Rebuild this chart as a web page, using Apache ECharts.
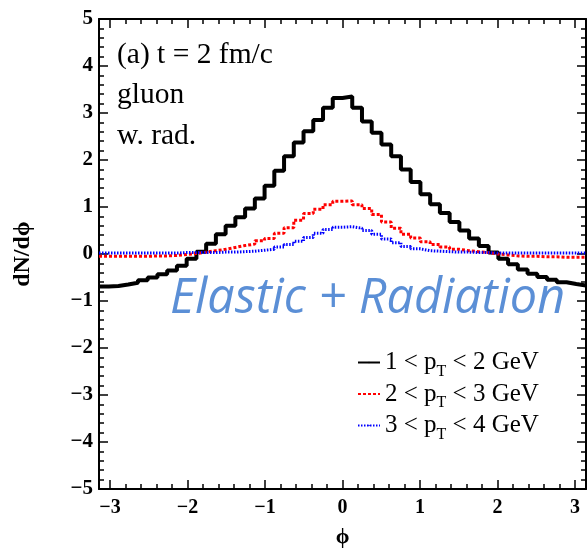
<!DOCTYPE html>
<html style="height: 100%">
<head>
<meta charset="utf-8">
</head>
<body style="width: 100%; height: 100%; margin:0 auto;">
<div id="container" style="width: 587px; height: 553px"></div>
<script type="text/javascript" src="https://cdn.jsdelivr.net/npm/echarts@6/dist/echarts.min.js"></script>
<script type="text/javascript">
	// 50 bins in phi from -pi to pi
	var nBins = 50;
	var xTicks = [-3, -2, -1, 0, 1, 2, 3];
	var seriesNames = ['1 < p_T < 2 GeV', '2 < p_T < 3 GeV', '3 < p_T < 4 GeV'];
	var pt12 = [-0.69, -0.68, -0.65, -0.61, -0.56, -0.50, -0.43, -0.35, -0.25, -0.10,
		0.05, 0.22, 0.42, 0.60, 0.78, 0.97, 1.18, 1.45, 1.77, 2.08,
		2.37, 2.61, 2.85, 3.11, 3.32, 3.35, 3.11, 2.82, 2.58, 2.33,
		2.08, 1.80, 1.53, 1.27, 1.06, 0.87, 0.68, 0.50, 0.33, 0.17,
		0.03, -0.10, -0.22, -0.33, -0.42, -0.49, -0.55, -0.60, -0.64, -0.67];
	var pt23 = [-0.05, -0.05, -0.05, -0.05, -0.05, -0.04, -0.04, -0.03, -0.01, 0.01,
		0.04, 0.07, 0.10, 0.14, 0.18, 0.21, 0.28, 0.33, 0.44, 0.56,
		0.72, 0.86, 0.95, 1.05, 1.12, 1.13, 1.05, 0.97, 0.84, 0.68,
		0.55, 0.42, 0.34, 0.26, 0.20, 0.15, 0.10, 0.07, 0.05, 0.03,
		0.00, -0.02, -0.04, -0.05, -0.05, -0.06, -0.06, -0.07, -0.07, -0.07];
	var pt34 = [0.02, 0.02, 0.02, 0.02, 0.02, 0.02, 0.02, 0.02, 0.03, 0.03,
		0.03, 0.03, 0.04, 0.04, 0.05, 0.06, 0.08, 0.10, 0.15, 0.20,
		0.27, 0.35, 0.44, 0.52, 0.57, 0.58, 0.55, 0.50, 0.42, 0.32,
		0.24, 0.16, 0.11, 0.07, 0.06, 0.05, 0.04, 0.04, 0.03, 0.03,
		0.02, 0.02, 0.02, 0.02, 0.02, 0.02, 0.02, 0.02, 0.02, 0.02];

	var binW = 2 * Math.PI / nBins;
	function stepData(vals) {
		var out = [];
		for (var i = 0; i < vals.length; i++) {
			out.push([-Math.PI + i * binW, vals[i]]);
		}
		out.push([Math.PI, vals[vals.length - 1]]);
		return out;
	}
	var minorX = [];
	for (var k = -15; k <= 15; k++) {
		if (k % 5 != 0) minorX.push(k / 5);
	}
	function minus(v) {
		return String(v).replace('-', '\u2212');
	}

	var serif = 'Liberation Serif';
	var dom = document.getElementById('container');
	var myChart = echarts.init(dom);
	var tickStyle = { color: '#000', width: 1.5 };
	var lineAxis = { show: true, onZero: false, lineStyle: { color: '#000', width: 2 } };
	var noLine = { show: false, onZero: false };

	var option = {
		animation: false,
		backgroundColor: '#fff',
		grid: { left: 99, right: 1, top: 19, bottom: 62 },
		legend: {
			orient: 'vertical',
			left: 357,
			top: 350,
			padding: 0,
			itemGap: 2,
			itemWidth: 22,
			itemHeight: 2,
			data: seriesNames,
			formatter: function (name) {
				var p = name.split('p_T');
				return '{t|' + p[0] + 'p}{s|T}{t|' + p[1] + '}';
			},
			textStyle: {
				rich: {
					t: { fontFamily: serif, fontSize: 25, color: '#000' },
					s: { fontFamily: serif, fontSize: 16, color: '#000', padding: [18, 0, 0, 0] }
				}
			}
		},
		xAxis: [
			{
				type: 'value', min: -Math.PI, max: Math.PI, position: 'bottom',
				name: '\u03d5', nameLocation: 'middle', nameGap: 37,
				nameTextStyle: { fontFamily: serif, fontWeight: 'bold', fontSize: 22, color: '#000' },
				axisLine: lineAxis,
				axisTick: { inside: true, length: 9, customValues: xTicks, lineStyle: tickStyle },
				axisLabel: { customValues: xTicks, margin: 9, fontFamily: serif, fontWeight: 'bold', fontSize: 20, color: '#000', formatter: minus },
				splitLine: { show: false }
			},
			{
				type: 'value', min: -Math.PI, max: Math.PI, position: 'bottom',
				axisLine: noLine,
				axisTick: { inside: true, length: 5, customValues: minorX, lineStyle: tickStyle },
				axisLabel: { show: false },
				splitLine: { show: false }
			},
			{
				type: 'value', min: -Math.PI, max: Math.PI, position: 'top',
				axisLine: lineAxis,
				axisTick: { inside: true, length: 9, customValues: xTicks, lineStyle: tickStyle },
				axisLabel: { show: false },
				splitLine: { show: false }
			},
			{
				type: 'value', min: -Math.PI, max: Math.PI, position: 'top',
				axisLine: noLine,
				axisTick: { inside: true, length: 5, customValues: minorX, lineStyle: tickStyle },
				axisLabel: { show: false },
				splitLine: { show: false }
			}
		],
		yAxis: [
			{
				type: 'value', min: -5, max: 5, interval: 1, position: 'left',
				name: 'dN/d\u03d5', nameLocation: 'middle', nameGap: 64,
				nameTextStyle: { fontFamily: serif, fontWeight: 'bold', fontSize: 24, color: '#000' },
				axisLine: lineAxis,
				axisTick: { inside: true, length: 9, lineStyle: tickStyle },
				minorTick: { show: true, splitNumber: 5, length: 5, lineStyle: tickStyle },
				axisLabel: { margin: 6, fontFamily: serif, fontWeight: 'bold', fontSize: 21, color: '#000', formatter: minus },
				splitLine: { show: false }
			},
			{
				type: 'value', min: -5, max: 5, interval: 1, position: 'right',
				axisLine: lineAxis,
				axisTick: { inside: true, length: 9, lineStyle: tickStyle },
				minorTick: { show: true, splitNumber: 5, length: 5, lineStyle: tickStyle },
				axisLabel: { show: false },
				splitLine: { show: false }
			}
		],
		graphic: [
			{ type: 'text', left: 117, top: 40, style: { text: '(a) t = 2 fm/c', fontFamily: serif, fontSize: 29.5, fill: '#000' } },
			{ type: 'text', left: 117, top: 80, style: { text: 'gluon', fontFamily: serif, fontSize: 29.5, fill: '#000' } },
			{ type: 'text', left: 117, top: 121, style: { text: 'w. rad.', fontFamily: serif, fontSize: 29.5, fill: '#000' } },
			{ type: 'text', left: 170, top: 275, style: { text: 'Elastic + Radiation', fontFamily: 'Open Sans', fontStyle: 'italic', fontSize: 48.5, fill: '#5b8fd6' } }
		],
		series: [
			{
				name: seriesNames[0], type: 'line', step: 'end', symbol: 'none',
				data: stepData(pt12),
				lineStyle: { color: '#000', width: 4 },
				itemStyle: { color: '#000' }
			},
			{
				name: seriesNames[1], type: 'line', step: 'end', symbol: 'none',
				data: stepData(pt23),
				lineStyle: { color: '#ff0000', width: 3, type: [3, 2] },
				itemStyle: { color: '#ff0000' }
			},
			{
				name: seriesNames[2], type: 'line', step: 'end', symbol: 'none',
				data: stepData(pt34),
				lineStyle: { color: '#0000ff', width: 3, type: [1.5, 1.5] },
				itemStyle: { color: '#0000ff' }
			}
		]
	};
	myChart.setOption(option);
</script>
</body>
</html>
